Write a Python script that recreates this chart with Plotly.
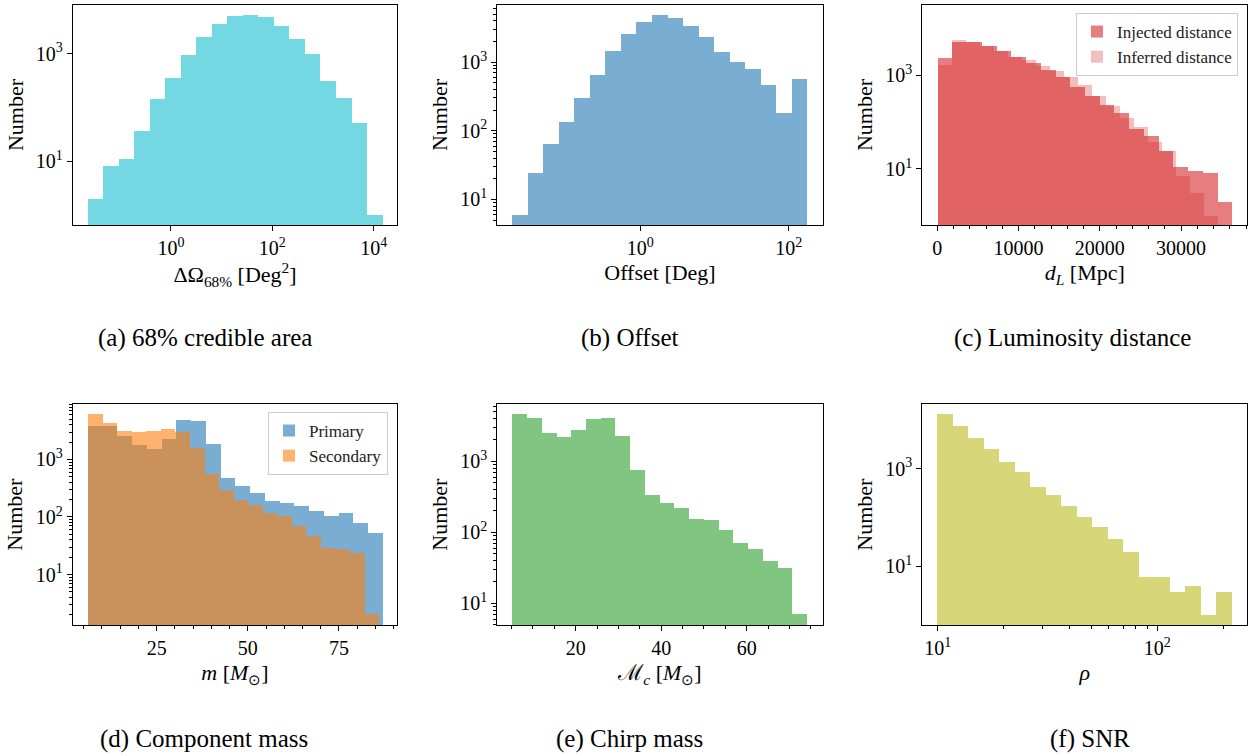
import plotly.graph_objects as go

# ---------------- data ----------------
# (a) 68% credible area  [Deg^2], log bins
area_edges = [0.0226, 0.0458, 0.0927, 0.1875, 0.379, 0.767, 1.552, 3.14, 6.35, 12.85,
              26.0, 52.6, 106.4, 215, 436, 881, 1782, 3606, 7295, 14757]
area_counts = [2, 8, 11, 37, 144, 351, 930, 1990, 3530, 5060,
               5210, 4710, 3290, 1880, 970, 304, 151, 50, 1]

# (b) Offset [Deg], log bins
offset_edges = [0.0190, 0.0308, 0.0498, 0.0805, 0.130, 0.211, 0.342, 0.553, 0.895, 1.449,
                2.345, 3.80, 6.14, 9.94, 16.1, 26.0, 42.2, 68.2, 110.4, 178.6]
offset_counts = [6, 24, 65, 134, 300, 655, 1460, 2600, 3850, 4800,
                 4440, 3400, 2280, 1400, 1010, 792, 460, 182, 573]

# (c) Luminosity distance [Mpc]
inj_edges = [80, 1894, 3708, 5521, 7335, 9149, 10963, 12777, 14590, 16404, 18218,
             20032, 21846, 23659, 25473, 27287, 29101, 30915, 32728, 34542, 36356]
inj_counts = [2300, 5010, 5160, 4050, 3170, 2410, 1800, 1300, 891, 547,
              352, 235, 157, 72, 50, 24, 11, 9, 8, 2]
inf_edges = [80, 1804, 3527, 5251, 6974, 8698, 10421, 12145, 13868, 15592, 17315,
             19039, 20762, 22486, 24209, 25933, 27656, 29380, 31103, 32827, 34550]
inf_counts = [1660, 5610, 5160, 4050, 3170, 2410, 2110, 1520, 1195, 891,
              624, 352, 216, 124, 79, 37, 24, 7, 3, 1]

# (d) Component mass [Msun]
prim_edges = [6.08, 10.12, 14.17, 18.21, 22.26, 26.30, 30.35, 34.39, 38.44, 42.48, 46.53,
              50.57, 54.61, 58.66, 62.70, 66.75, 70.79, 74.84, 78.88, 82.93, 86.97]
prim_counts = [3810, 3710, 2480, 1780, 1490, 2230, 4850, 4540, 1850, 467,
               343, 262, 188, 171, 156, 126, 104, 114, 79, 53]
sec_edges = [6.08, 10.07, 14.07, 18.06, 22.06, 26.05, 30.05, 34.04, 38.04, 42.03, 46.03,
             50.02, 54.01, 58.01, 62.00, 66.00, 69.99, 73.99, 77.98, 81.98, 85.97]
sec_counts = [6100, 4250, 3120, 2960, 3120, 3340, 2960, 1556, 555, 292,
              195, 160, 114, 103, 69, 47, 29, 27, 23, 2]

# (e) Chirp mass [Msun]
chirp_edges = [5.26, 8.71, 12.15, 15.60, 19.05, 22.49, 25.94, 29.39, 32.83, 36.28, 39.73,
               43.17, 46.62, 50.06, 53.51, 56.96, 60.40, 63.85, 67.30, 70.74, 74.19]
chirp_counts = [4590, 4040, 2510, 2180, 2760, 3910, 3990, 2220, 755, 328,
                259, 215, 151, 146, 107, 71, 58, 39, 31, 7]

# (f) SNR, log bins
snr_edges = [10.0, 11.77, 13.84, 16.28, 19.16, 22.54, 26.51, 31.19, 36.69, 43.16,
             50.78, 59.74, 70.28, 82.68, 97.27, 114.4, 134.6, 158.4, 186.3, 219.2]
snr_counts = [12800, 7210, 4180, 2470, 1345, 830, 419, 288, 170, 103,
              63, 35, 19, 6, 6, 3, 4, 1, 3]

captions = ["(a) 68% credible area", "(b) Offset", "(c) Luminosity distance",
            "(d) Component mass", "(e) Chirp mass", "(f) SNR"]

# ---------------- styling ----------------
W, H = 1254, 756
FONT = "Liberation Serif"
C_CYAN = "rgba(23,190,207,0.6)"
C_BLUE = "rgba(31,119,180,0.6)"
C_ORANGE = "rgba(255,127,14,0.6)"
C_RED6 = "rgba(214,39,40,0.6)"
C_RED3 = "rgba(214,39,40,0.3)"
C_GREEN = "rgba(44,160,44,0.6)"
C_OLIVE = "rgba(188,189,34,0.6)"

def px_x(a, b):
    return [a / W, b / W]

def px_y(top, bottom):
    return [1 - bottom / H, 1 - top / H]

dom_x = [px_x(72.7, 397.3), px_x(497.3, 822.7), px_x(922.3, 1247.3)]
dom_y = [px_y(5, 225), px_y(404.3, 625)]

fig = go.Figure()

def hist(edges, counts, color, idx, name=None, legend=None):
    lo = edges[:-1]
    hi = edges[1:]
    centers = [(a + b) / 2 for a, b in zip(lo, hi)]
    widths = [b - a for a, b in zip(lo, hi)]
    ax = "" if idx == 1 else str(idx)
    fig.add_trace(go.Bar(
        x=centers, y=counts, width=widths,
        marker=dict(color=color, line=dict(width=0)),
        xaxis="x" + ax, yaxis="y" + ax,
        name=name, showlegend=name is not None,
        legend=legend if legend else "legend",
        hoverinfo="x+y",
    ))

hist(area_edges, area_counts, C_CYAN, 1)
hist(offset_edges, offset_counts, C_BLUE, 2)
hist(inj_edges, inj_counts, C_RED6, 3, "Injected distance", "legend")
hist(inf_edges, inf_counts, C_RED3, 3, "Inferred distance", "legend")
hist(prim_edges, prim_counts, C_BLUE, 4, "Primary", "legend2")
hist(sec_edges, sec_counts, C_ORANGE, 4, "Secondary", "legend2")
hist(chirp_edges, chirp_counts, C_GREEN, 5)
hist(snr_edges, snr_counts, C_OLIVE, 6)

def sup(k):
    return "10<sup>%d</sup>" % k

def log_minor(lo_dec, hi_dec):
    vals = []
    for d in range(lo_dec, hi_dec + 1):
        for m in range(2, 10):
            vals.append(m * 10 ** d)
    return vals

tickfont = dict(family=FONT, size=20, color="black")
titlefont = dict(family=FONT, size=22, color="black")

def axis_common():
    return dict(showline=True, linecolor="black", linewidth=1, mirror=True,
                ticks="outside", ticklen=5, tickwidth=1, tickcolor="black",
                showgrid=False, zeroline=False, tickfont=tickfont)

# axis specs: (xtype, xrange, xtickvals, xticktext, xminor, xtitle, yrange, ytickvals, yticktext, yminor)
specs = [
    ("log", [-1.94, 4.467], [1, 100, 10000], [sup(0), sup(2), sup(4)], None,
     "ΔΩ<sub>68%</sub> [Deg<sup>2</sup>]",
     [-0.19, 3.903], [10, 1000], [sup(1), sup(3)], None),
    ("log", [-1.928, 2.458], [1, 100], [sup(0), sup(2)], None,
     "Offset [Deg]",
     [0.628, 3.831], [10, 100, 1000], [sup(1), sup(2), sup(3)], log_minor(0, 3)),
    ("linear", [-1850, 38160], [0, 10000, 20000, 30000], ["0", "10000", "20000", "30000"],
     list(range(0, 38001, 2000)),
     "<i>d</i><sub><i>L</i></sub> [Mpc]",
     [-0.194, 4.491], [10, 1000], [sup(1), sup(3)], None),
    ("linear", [1.97, 90.99], [25, 50, 75], ["25", "50", "75"], list(range(5, 91, 5)),
     "<i>m</i> [<i>M</i><sub>⊙</sub>]",
     [0.122, 3.959], [10, 100, 1000], [sup(1), sup(2), sup(3)], log_minor(0, 3)),
    ("linear", [1.68, 77.78], [20, 40, 60], ["20", "40", "60"], list(range(5, 76, 5)),
     "ℳ<sub><i>c</i></sub> [<i>M</i><sub>⊙</sub>]",
     [0.695, 3.803], [10, 100, 1000], [sup(1), sup(2), sup(3)], log_minor(0, 3)),
    ("log", [0.930, 2.410], [10, 100], [sup(1), sup(2)], log_minor(1, 2),
     "<i>ρ</i>",
     [-0.196, 4.311], [10, 1000], [sup(1), sup(3)], None),
]

layout = dict(
    width=W, height=H, margin=dict(l=0, r=0, t=0, b=0),
    paper_bgcolor="white", plot_bgcolor="white",
    barmode="overlay", bargap=0, bargroupgap=0,
    font=dict(family=FONT, color="black"),
)

for i, (xt, xr, xtv, xtt, xmin, xtitle, yr, ytv, ytt, ymin) in enumerate(specs):
    n = i + 1
    row, col = divmod(i, 3)
    ax = "" if n == 1 else str(n)
    xa = axis_common()
    xa.update(type=xt, range=xr, domain=dom_x[col], anchor="y" + ax,
              tickmode="array", tickvals=xtv, ticktext=xtt,
              title=dict(text=xtitle, font=titlefont, standoff=6))
    if xmin is not None:
        xa["minor"] = dict(tickmode="array", tickvals=xmin, ticks="outside",
                           ticklen=3, tickwidth=1, tickcolor="black", showgrid=False)
    ya = axis_common()
    ya.update(type="log", range=yr, domain=dom_y[row], anchor="x" + ax,
              tickmode="array", tickvals=ytv, ticktext=ytt,
              title=dict(text="Number", font=titlefont, standoff=6))
    if ymin is not None:
        ya["minor"] = dict(tickmode="array", tickvals=ymin, ticks="outside",
                           ticklen=3, tickwidth=1, tickcolor="black", showgrid=False)
    layout["xaxis" + ax] = xa
    layout["yaxis" + ax] = ya

legend_style = dict(bgcolor="rgba(255,255,255,0.8)", bordercolor="#cccccc", borderwidth=1,
                    font=dict(family=FONT, size=17, color="#222"),
                    xanchor="right", yanchor="top", tracegroupgap=2)
layout["legend"] = dict(x=1238 / W, y=1 - 13 / H, **legend_style)
layout["legend2"] = dict(x=388 / W, y=1 - 412 / H, **legend_style)

cap_pos = [(205, 338), (629, 338), (1072, 338), (204, 739), (629, 739), (1090, 739)]
annotations = []
for text, (cx, cy) in zip(captions, cap_pos):
    annotations.append(dict(text=text, x=cx / W, y=1 - cy / H, xref="paper", yref="paper",
                            xanchor="center", yanchor="middle", showarrow=False,
                            font=dict(family=FONT, size=25, color="black")))
layout["annotations"] = annotations

fig.update_layout(**layout)
fig.write_html("out.html")
